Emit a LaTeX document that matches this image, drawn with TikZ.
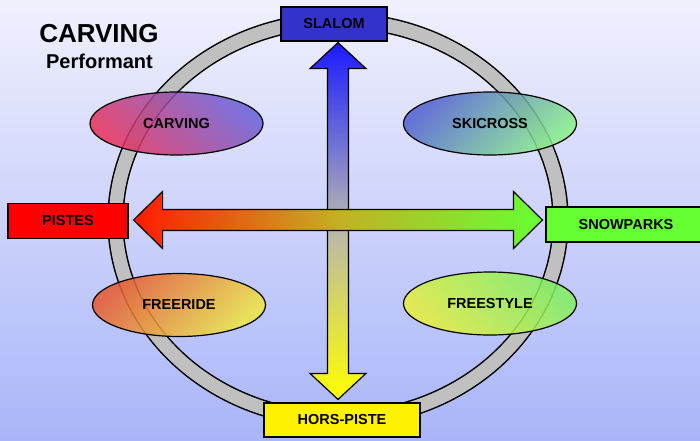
\documentclass[tikz,border=0pt]{standalone}
\usepackage{fontspec}
\setmainfont{Liberation Sans}
\usetikzlibrary{shapes.geometric,calc}
\tikzset{>=stealth}
\definecolor{fondHaut}{RGB}{240,240,253}
\definecolor{fondBas}{RGB}{169,181,249}
\definecolor{anneau}{RGB}{192,192,192}
\definecolor{slalomBleu}{RGB}{51,51,204}
\definecolor{vertParc}{RGB}{102,255,51}
\definecolor{flecheBleu}{RGB}{26,26,255}
\definecolor{flecheGris}{RGB}{180,180,180}
\definecolor{flecheRouge}{RGB}{255,26,0}
\definecolor{flecheOlive}{RGB}{196,176,36}
\newcommand{\etiq}{\fontsize{14.5}{16}\selectfont\bfseries}
\tikzset{
	boite/.style={draw, line width=1.2pt, minimum height=34pt, inner sep=0pt, font=\etiq},
	bulle/.style={ellipse, draw, line width=1.2pt, minimum width=173pt, minimum height=63pt,
		inner sep=0pt, fill opacity=0.85, text opacity=1, font=\etiq},
	fleche/.style={draw, line width=1.2pt, line join=miter}
}

\begin{document}
\begin{tikzpicture}[x=1pt,y=1pt]

	\useasboundingbox (0,0) rectangle (700,440);
	\shade [top color=fondHaut, bottom color=fondBas] (0,0) rectangle (700,440);

	\coordinate (hub) at (338,220);
	\draw [line width=16.5pt] (hub) ellipse [x radius=222.5, y radius=199.5];
	\draw [line width=13.5pt, anneau] (hub) ellipse [x radius=222.5, y radius=199.5];

	\node [bulle, left color={rgb,255:red,232;green,48;blue,90}, right color={rgb,255:red,106;green,96;blue,216},
		shading angle=135] (carving) at (176.5,316.5) {CARVING};
	\node [bulle, left color={rgb,255:red,80;green,96;blue,208}, right color={rgb,255:red,136;green,240;blue,136},
		shading angle=45] (skicross) at (490,316.5) {SKICROSS};
	\node [bulle, left color={rgb,255:red,232;green,88;blue,48}, right color={rgb,255:red,240;green,232;blue,64},
		shading angle=45] (freeride) at (179,135) {FREERIDE};
	\node [bulle, left color={rgb,255:red,232;green,240;blue,56}, right color={rgb,255:red,128;green,240;blue,96},
		shading angle=135] (freestyle) at (490,136.5) {FREESTYLE};

	\node [boite, fill=slalomBleu, minimum width=106pt] (slalom) at (334,416) {SLALOM};
	\node [boite, fill=red, minimum width=120pt, minimum height=35pt] (pistes) at (68,219) {PISTES};
	\node [boite, fill=vertParc, minimum width=160pt, minimum height=35pt] (snowparks) at (626,215.5) {SNOWPARKS};
	\node [boite, fill=yellow, minimum width=156pt] (hors) at (342,20) {HORS-PISTE};

	\coordinate (vh) at ($(slalom.south -| hub)+(0,-1)$);
	\coordinate (vb) at ($(hors.north -| hub)+(0,3)$);
	\shade [fleche, top color=flecheBleu, bottom color=yellow, middle color=flecheGris]
		(vh) -- ($(vh)+(28,-26)$) -- ($(vh)+(10.5,-26)$) -- ($(vb)+(10.5,26)$) -- ($(vb)+(28,26)$)
		-- (vb) -- ($(vb)+(-28,26)$) -- ($(vb)+(-10.5,26)$) -- ($(vh)+(-10.5,-26)$) -- ($(vh)+(-28,-26)$) -- cycle;

	\coordinate (hg) at ($(pistes.east |- hub)+(5,0)$);
	\coordinate (hd) at ($(snowparks.west |- hub)+(-3,0)$);
	\shade [fleche, left color=flecheRouge, right color=vertParc, middle color=flecheOlive]
		(hg) -- ($(hg)+(29,28.5)$) -- ($(hg)+(29,10.5)$) -- ($(hd)+(-29,10.5)$) -- ($(hd)+(-29,28.5)$)
		-- (hd) -- ($(hd)+(-29,-28.5)$) -- ($(hd)+(-29,-10.5)$) -- ($(hg)+(29,-10.5)$) -- ($(hg)+(29,-28.5)$) -- cycle;

	\node [anchor=base, font=\fontsize{26}{30}\selectfont\bfseries] (titre) at (99,397) {CARVING};
	\node [anchor=base, font=\fontsize{20}{24}\selectfont\bfseries] (soustitre) at (99.5,371) {Performant};

\end{tikzpicture}
\end{document}
